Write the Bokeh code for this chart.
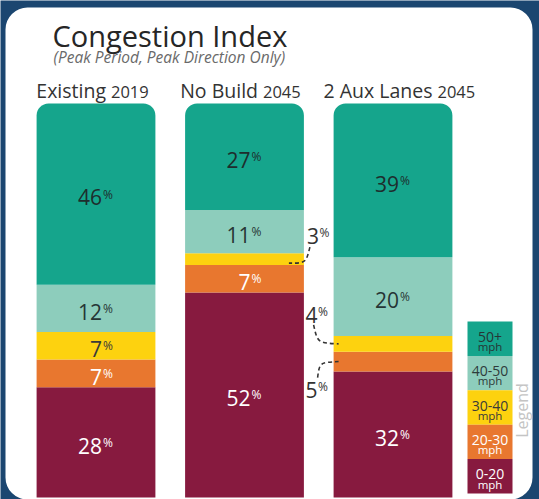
import numpy as np
from bokeh.plotting import figure
from bokeh.models import Range1d, ColumnDataSource
from bokeh.core.properties import value
from bokeh.embed import file_html
from bokeh.resources import INLINE

# ---------------- data ----------------
scenarios = ["Existing", "No Build", "2 Aux Lanes"]
years = ["2019", "2045", "2045"]
speed_bins = ["0-20", "20-30", "30-40", "40-50", "50+"]          # bottom -> top
share_0_20 = [28, 52, 32]
share_20_30 = [7, 7, 5]
share_30_40 = [7, 3, 4]
share_40_50 = [12, 11, 20]
share_50_plus = [46, 27, 39]
title_text = "Congestion Index"
subtitle_text = "(Peak Period, Peak Direction Only)"
legend_title = "Legend"

# ---------------- style / layout ----------------
colors = ["#871a3f", "#e8772f", "#fdd20f", "#8dcdbc", "#15a58c"]
label_colors = ["#ffffff", "#ffffff", "#3a3a3a", "#263535", "#1e2d2d"]
legend_text_colors = ["#ffffff", "#ffffff", "#3a3a3a", "#2e3b3b", "#263535"]
NAVY = "#1b4670"
FONT = value("Open Sans")
BASE = 0.34              # rendered baseline sits this many em below the anchor

W, H = 539, 499
PAGE = 0
PX_CAT = 148.5           # pixels per category
PX_PCT = 3.94            # pixels per percent
FIRST_CENTER_PX = 95.5   # picture x of first bar centre
ZERO_PX = 497            # picture y of 0 %
BAR_W = 0.8

X_START = 0.5 - (FIRST_CENTER_PX - PAGE) / PX_CAT
X_END = X_START + W / PX_CAT
Y_START = (ZERO_PX - (PAGE + H)) / PX_PCT
Y_END = (ZERO_PX - PAGE) / PX_PCT


def dx(px):
    return X_START + (px - PAGE) / PX_CAT


def dy(py):
    return (ZERO_PX - py) / PX_PCT


def base_off(size):
    return -BASE * size


p = figure(width=W, height=H, x_range=Range1d(X_START, X_END), y_range=Range1d(Y_START, Y_END),
           output_backend="svg", toolbar_location=None, min_border=0,
           x_axis_location=None, y_axis_location=None)
p.grid.visible = False
p.outline_line_color = None
p.background_fill_color = NAVY
p.border_fill_color = NAVY

# white rounded panel
p.quad(left=[dx(5)], right=[dx(532)], top=[dy(7)], bottom=[dy(499)],
       fill_color="white", line_color=None, border_radius=22)

# ---------------- stacked bars ----------------
xc = np.arange(len(scenarios)) + 0.5
stacks = [share_0_20, share_20_30, share_30_40, share_40_50, share_50_plus]
names = ["s%d" % i for i in range(len(stacks))]
src = ColumnDataSource(dict(x=xc, **{n: s for n, s in zip(names, stacks)}))
rs = p.vbar_stack(names, x="x", width=BAR_W, color=colors, line_color=None, source=src)
rs[-1].glyph.border_radius = (12, 12, 0, 0)

# ---------------- value labels ----------------
arr = np.array(stacks, dtype=float)          # bins x scenarios
bottoms = np.vstack([np.zeros(len(scenarios)), np.cumsum(arr, axis=0)[:-1]])
mids = bottoms + arr / 2

NUM_FS, PCT_FS = 21, 12
in_x, in_y, in_t, in_c = [], [], [], []
for b in range(arr.shape[0]):
    for s in range(arr.shape[1]):
        if arr[b, s] >= 7:
            in_x.append(xc[s]); in_y.append(mids[b, s])
            in_t.append("%d" % arr[b, s]); in_c.append(label_colors[b])
p.text(x=in_x, y=in_y, text=in_t, text_color=in_c, text_font=FONT, text_font_size="%dpx" % NUM_FS,
       text_align="right", text_baseline="alphabetic", x_offset=6,
       y_offset=10.5 + base_off(NUM_FS))
p.text(x=in_x, y=in_y, text=["%"] * len(in_x), text_color=in_c, text_font=FONT,
       text_font_size="%dpx" % PCT_FS, text_align="left", text_baseline="alphabetic",
       x_offset=7, y_offset=4 + base_off(PCT_FS))

# small segments labelled outside the bars with dashed leaders
# (scenario, bin, side of bar, label offset px, leader start, ctrl, end px)
outside = [
    (1, 2, +1, (3, -15.6), (6, -12), (2, 4), (-15, 4)),
    (2, 2, -1, (-28, -21.3), (-20, -19), (-16, -1), (5, 0)),
    (2, 1, -1, (-28, 35.9), (-16, 16), (-14, 1), (5, 0)),
]
for s, b, side, lab, st, ct, en in outside:
    ax = xc[s] + side * BAR_W / 2
    ay = mids[b, s]
    p.text(x=[ax], y=[ay], text=["%d" % arr[b, s]], text_color="#333333", text_font=FONT,
           text_font_size="%dpx" % NUM_FS, text_align="left", text_baseline="alphabetic",
           x_offset=lab[0], y_offset=lab[1] + base_off(NUM_FS))
    p.text(x=[ax], y=[ay], text=["%"], text_color="#333333", text_font=FONT,
           text_font_size="%dpx" % PCT_FS, text_align="left", text_baseline="alphabetic",
           x_offset=lab[0] + 12.5, y_offset=lab[1] - 6.5 + base_off(PCT_FS))
    p.bezier(x0=[ax + st[0] / PX_CAT], y0=[ay - st[1] / PX_PCT],
             x1=[ax + en[0] / PX_CAT], y1=[ay - en[1] / PX_PCT],
             cx0=[ax + ct[0] / PX_CAT], cy0=[ay - ct[1] / PX_PCT],
             cx1=[ax + ct[0] / PX_CAT], cy1=[ay - ct[1] / PX_PCT],
             line_color="#333333", line_width=1.6, line_dash="4 3")

# ---------------- headers ----------------
HEAD_FS, YEAR_FS = 19.5, 16.5
header_anchor_px = [12, 15.5, 41.5]
hx = [xc[i] + header_anchor_px[i] / PX_CAT for i in range(len(scenarios))]
p.text(x=hx, y=[dy(97)] * 3, text=scenarios, text_color="#333333", text_font=FONT,
       text_font_size="%spx" % HEAD_FS, text_align="right", text_baseline="alphabetic",
       x_offset=-2, y_offset=base_off(HEAD_FS))
p.text(x=hx, y=[dy(97)] * 3, text=years, text_color="#333333", text_font=FONT,
       text_font_size="%spx" % YEAR_FS, text_align="left", text_baseline="alphabetic",
       x_offset=3, y_offset=base_off(YEAR_FS))

# ---------------- title ----------------
TITLE_FS, SUB_FS = 29, 15.5
p.text(x=[dx(52)], y=[dy(45)], text=[title_text], text_color="#262626", text_font=FONT,
       text_font_size="%spx" % TITLE_FS, text_align="left", text_baseline="alphabetic",
       y_offset=base_off(TITLE_FS))
p.text(x=[dx(53)], y=[dy(62)], text=[subtitle_text], text_color="#6a6a6a", text_font=FONT,
       text_font_size="%spx" % SUB_FS, text_font_style="italic", text_align="left",
       text_baseline="alphabetic", y_offset=base_off(SUB_FS))

# ---------------- legend ----------------
LEG_L, LEG_R, LEG_TOP, LEG_H = 467, 512, 321, 34.4
LEG_FS, MPH_FS = 14, 11.5
order = list(range(len(speed_bins)))[::-1]   # top -> bottom
tops = [LEG_TOP + i * LEG_H for i in range(len(order))]
p.quad(left=[dx(LEG_L)] * 5, right=[dx(LEG_R)] * 5,
       top=[dy(t) for t in tops], bottom=[dy(t + LEG_H) for t in tops],
       fill_color=[colors[b] for b in order], line_color=None)
lcx = (LEG_L + LEG_R) / 2
p.text(x=[dx(lcx)] * 5, y=[dy(t + 20) for t in tops], text=[speed_bins[b] for b in order],
       text_color=[legend_text_colors[b] for b in order], text_font=FONT,
       text_font_size="%spx" % LEG_FS, text_align="center", text_baseline="alphabetic",
       y_offset=base_off(LEG_FS))
p.text(x=[dx(lcx)] * 5, y=[dy(t + 29) for t in tops], text=["mph"] * 5,
       text_color=[legend_text_colors[b] for b in order], text_font=FONT,
       text_font_size="%spx" % MPH_FS, text_align="center", text_baseline="alphabetic",
       y_offset=base_off(MPH_FS))
p.text(x=[dx(521)], y=[dy(410)], text=[legend_title], text_color="#c4c4c4", text_font=FONT,
       text_font_size="16px", text_align="center", text_baseline="middle", angle=np.pi / 2)

open("out.html", "w").write(file_html(p, INLINE))
